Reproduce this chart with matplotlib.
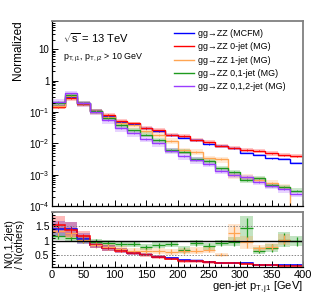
import numpy as np
import matplotlib
matplotlib.use("Agg")
import matplotlib.pyplot as plt
from matplotlib.ticker import FixedLocator, MultipleLocator, NullFormatter

plt.rcParams['font.family'] = ['Liberation Sans', 'DejaVu Sans']
plt.rcParams['mathtext.fontset'] = 'custom'
plt.rcParams['mathtext.rm'] = 'Liberation Sans'
plt.rcParams['mathtext.it'] = 'Liberation Sans'
plt.rcParams['mathtext.default'] = 'regular'

# bins of gen-jet pT (GeV)
edges = np.arange(0, 420, 20)

# normalized distributions
mcfm = [0.155, 0.31, 0.19, 0.105, 0.075, 0.049, 0.040, 0.030, 0.024, 0.018,
        0.015, 0.013, 0.0093, 0.0081, 0.0069, 0.0050, 0.0042, 0.0033, 0.0032, 0.0024]
jet0 = [0.145, 0.27, 0.18, 0.105, 0.080, 0.051, 0.043, 0.031, 0.026, 0.019,
        0.017, 0.0126, 0.0107, 0.0083, 0.0072, 0.0061, 0.0058, 0.0048, 0.0042, 0.0039]
jet1 = [0.16, 0.32, 0.19, 0.105, 0.071, 0.045, 0.038, 0.025, 0.019, 0.0118,
        0.0060, 0.0054, 0.0033, 0.0031, 0.00096, 0.00085, 0.00068, 0.00055, 0.00041, 1e-9]
jet01 = [0.19, 0.34, 0.19, 0.105, 0.062, 0.038, 0.026, 0.019, 0.0126, 0.0061,
         0.0054, 0.0031, 0.0027, 0.0016, 0.0012, 0.00068, 0.00076, 0.00047, 0.00040, 0.00031]
jet012 = [0.21, 0.39, 0.19, 0.100, 0.055, 0.030, 0.021, 0.014, 0.0099, 0.0058,
          0.0039, 0.0029, 0.0022, 0.0013, 0.00098, 0.00082, 0.00059, 0.00044, 0.00034, 0.00025]

# ratio N(0,1,2jet) / N(others)
r_mcfm = [1.42, 1.42, 1.08, 0.85, 0.76, 0.68, 0.60, 0.53, 0.46, 0.40,
          0.33, 0.32, 0.27, 0.25, 0.25, 0.24, 0.18, 0.18, 0.17, 0.17]
r_jet0 = [1.56, 1.39, 1.16, 0.87, 0.76, 0.67, 0.59, 0.53, 0.45, 0.39,
          0.30, 0.30, 0.26, 0.24, 0.24, 0.22, 0.16, 0.16, 0.15, 0.15]
r_jet1 = [1.35, 1.28, 1.05, 0.87, 0.78, 0.72, 0.66, 0.64, 0.65, 0.62,
          0.65, 0.67, 0.70, 0.53, 1.28, 0.95, 0.75, 0.80, 1.05, np.nan]
r_jet01 = [1.16, 1.10, 1.04, 0.97, 0.93, 0.90, 0.90, 0.78, 0.85, 0.90,
           0.70, 0.93, 0.82, 0.93, 0.97, 1.45, 0.67, 0.76, 1.05, 0.99]

# ratio uncertainty half widths
e_jet0 = [0.30, 0.25, 0.20, 0.12, 0.10, 0.09, 0.08, 0.07, 0.06, 0.05,
          0.05, 0.05, 0.04, 0.04, 0.04, 0.04, 0.03, 0.03, 0.03, 0.03]
e_mcfm = [0.26, 0.22, 0.18, 0.11, 0.09, 0.08, 0.07, 0.06, 0.05, 0.05,
          0.04, 0.04, 0.04, 0.04, 0.03, 0.03, 0.03, 0.03, 0.03, 0.03]
e_jet1 = [0.20, 0.18, 0.15, 0.12, 0.12, 0.10, 0.10, 0.10, 0.10, 0.10,
          0.10, 0.12, 0.10, 0.06, 0.32, 0.22, 0.12, 0.12, 0.20, np.nan]
e_jet01 = [0.12, 0.12, 0.12, 0.10, 0.10, 0.10, 0.10, 0.10, 0.10, 0.10,
           0.12, 0.12, 0.12, 0.12, 0.15, 0.40, 0.12, 0.15, 0.25, 0.18]

labels = ['gg→ZZ (MCFM)', 'gg→ZZ 0-jet (MG)', 'gg→ZZ 1-jet (MG)',
          'gg→ZZ 0,1-jet (MG)', 'gg→ZZ 0,1,2-jet (MG)']
colors = ['#0000ff', '#ff0000', '#ffa552', '#1e9a1e', '#9a3cff']
band_rel = [0.06, 0.15, 0.22, 0.18, 0.22]

W, H = 316, 303
fig = plt.figure(figsize=(W / 100, H / 100), dpi=100)
ax = fig.add_axes([52 / W, 1 - 206 / H, 251 / W, 185 / H])
axr = fig.add_axes([52 / W, 1 - 267 / H, 251 / W, 55 / H])

centers = 0.5 * (edges[1:] + edges[:-1])
series = [mcfm, jet0, jet1, jet01, jet012]
handles = []
for vals, col, rel in zip(series, colors, band_rel):
    v = np.array(vals)
    ax.stairs(v * (1 + rel), edges, baseline=v * (1 - rel), fill=True,
              color=col, alpha=0.22, lw=0)
for vals, col, rel in zip(series, colors, band_rel):
    v = np.array(vals)
    ax.stairs(v, edges, color=col, lw=1.0, baseline=None)
    ax.errorbar(centers, v, yerr=v * rel * 0.3, fmt='none', ecolor=col, elinewidth=0.6)
    handles.append(plt.Line2D([], [], color=col, lw=1.0))

ax.set_yscale('log')
ax.set_xlim(0, 400)
ax.set_ylim(1e-4, 80)
ax.yaxis.set_major_locator(FixedLocator([1e-4, 1e-3, 1e-2, 1e-1, 1, 10]))
ax.set_yticklabels([r'$10^{-4}$', r'$10^{-3}$', r'$10^{-2}$', r'$10^{-1}$', '1', '10'])
ax.yaxis.set_minor_locator(matplotlib.ticker.LogLocator(base=10, subs=np.arange(2, 10), numticks=20))
ax.yaxis.set_minor_formatter(NullFormatter())
ax.xaxis.set_major_locator(MultipleLocator(50))
ax.xaxis.set_minor_locator(MultipleLocator(10))
ax.set_xticklabels([])

leg = ax.legend(handles, labels, loc='upper left', bbox_to_anchor=(0.47, 0.975),
                frameon=False, fontsize=6.4, handlelength=2.3, handletextpad=0.5,
                labelspacing=0.48, borderaxespad=0)
ax.text(0.045, 0.905, r'$\sqrt{s}$ = 13 TeV', transform=ax.transAxes, fontsize=8, va='center')
ax.text(0.045, 0.80, r'$p_{T,j1}$, $p_{T,j2}$ > 10 GeV', transform=ax.transAxes,
        fontsize=6.4, va='center')

# ratio pad
ratio_sets = [(r_jet01, e_jet01, colors[3], True), (r_jet1, e_jet1, colors[2], True),
              (r_mcfm, e_mcfm, colors[0], False), (r_jet0, e_jet0, colors[1], False)]
for r, e, col, cross in ratio_sets:
    r = np.array(r, dtype=float)
    e = np.array(e, dtype=float)
    axr.stairs(r + e, edges, baseline=r - e, fill=True, color=col, alpha=0.27, lw=0)
for r, e, col, cross in ratio_sets:
    r = np.array(r, dtype=float)
    e = np.array(e, dtype=float)
    if cross:
        axr.errorbar(centers, r, xerr=10, yerr=e * 0.85, fmt='none', ecolor=col,
                     elinewidth=0.9)
    else:
        axr.stairs(r, edges, color=col, lw=1.1, baseline=None)
        axr.errorbar(centers, r, yerr=e * 0.4, fmt='none', ecolor=col, elinewidth=0.6)

axr.axhline(1.0, color='black', lw=1.0)
axr.axhline(0.5, color='#888888', lw=0.7, ls=(0, (1.5, 1.5)))
axr.axhline(1.5, color='#888888', lw=0.7, ls=(0, (1.5, 1.5)))
axr.set_xlim(0, 400)
axr.set_ylim(0.1, 2.0)
axr.yaxis.set_major_locator(FixedLocator([0.5, 1.0, 1.5]))
axr.set_yticklabels(['0.5', '1', '1.5'])
axr.yaxis.set_minor_locator(MultipleLocator(0.1))
axr.xaxis.set_major_locator(MultipleLocator(50))
axr.xaxis.set_minor_locator(MultipleLocator(10))

for a in (ax, axr):
    a.tick_params(which='both', direction='in', top=False, right=False,
                  labelsize=8, pad=2, width=0.7)
    a.tick_params(which='major', length=4.5)
    a.tick_params(which='minor', length=2.3)
    for s in ('left', 'bottom'):
        a.spines[s].set_linewidth(0.9)
    for s in ('top', 'right'):
        a.spines[s].set_color('#808080')
        a.spines[s].set_linewidth(1.3)
ax.tick_params(axis='y', labelsize=7)
axr.tick_params(axis='y', labelsize=7.5)

fig.text(18 / W, 1 - 20 / H, 'Normalized', rotation=90, ha='center', va='top', fontsize=8.5)
fig.text(15 / W, 1 - 244 / H, 'N(0,1,2jet)\n/ N(others)', rotation=90, ha='center',
         va='center', fontsize=7.5, linespacing=1.1)
fig.text(303 / W, 1 - 288 / H, r'gen-jet $p_{T,j1}$ [GeV]', ha='right', va='center',
         fontsize=8)

fig.savefig('out.png', dpi=100)
